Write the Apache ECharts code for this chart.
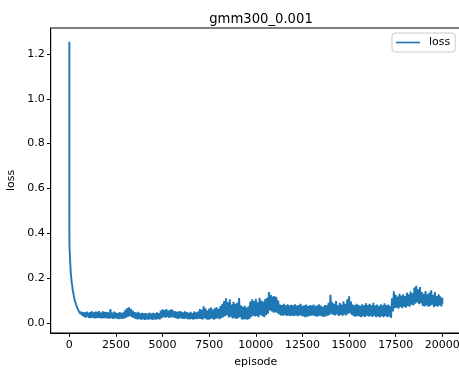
<!DOCTYPE html>
<html>
<head>
<meta charset="utf-8">
<script src="https://cdn.jsdelivr.net/npm/echarts@6/dist/echarts.min.js"></script>
<style>html,body{margin:0;padding:0;background:#fff}#c{width:459px;height:369px}</style>
</head>
<body>
<div id="c"></div>
<script>
// Title / names
const chartTitle = 'gmm300_0.001';
const seriesName = 'loss';
const xName = 'episode';
const yName = 'loss';

// Tick labels
const xTicks = [0, 2500, 5000, 7500, 10000, 12500, 15000, 17500, 20000];
const yTicks = [0.0, 0.2, 0.4, 0.6, 0.8, 1.0, 1.2];

// Early decay (episode, loss)
const earlyEpisodes = [0, 2, 10, 30, 45, 60, 80, 100, 125, 150, 175, 200, 230, 260, 290, 320, 360, 400, 440, 480, 520, 560, 600, 650, 700, 750, 800, 850, 900, 950];
const earlyLoss = [1.255, 0.386, 0.34, 0.30, 0.27, 0.25, 0.22, 0.205, 0.18, 0.17, 0.15, 0.145, 0.125, 0.118, 0.10, 0.098, 0.082, 0.08, 0.064, 0.066, 0.050, 0.056, 0.040, 0.050, 0.032, 0.048, 0.026, 0.047, 0.024, 0.050];

// Noise band from episode 1000 to 20000, one upper and one lower reading per 100 episodes
const bandStart = 1000;
const bandStep = 100;
const bandHigh = [
  0.050,0.048,0.052,0.047,0.050,0.049,0.053,0.046,0.051,0.049,
  0.048,0.047,0.062,0.046,0.050,0.046,0.044,0.048,0.045,0.047,
  0.058,0.066,0.070,0.063,0.055,0.048,0.046,0.049,0.043,0.045,
  0.042,0.044,0.041,0.046,0.043,0.045,0.042,0.047,0.044,0.055,
  0.060,0.057,0.062,0.055,0.058,0.061,0.054,0.052,0.049,0.053,
  0.050,0.047,0.052,0.048,0.045,0.049,0.044,0.051,0.047,0.050,
  0.062,0.058,0.074,0.065,0.055,0.064,0.068,0.060,0.066,0.070,
  0.063,0.075,0.085,0.098,0.110,0.092,0.105,0.082,0.094,0.085,
  0.090,0.111,0.078,0.072,0.076,0.068,0.074,0.095,0.105,0.098,
  0.108,0.092,0.112,0.100,0.095,0.106,0.112,0.138,0.125,0.118,
  0.120,0.115,0.100,0.082,0.080,0.085,0.078,0.083,0.079,0.081,
  0.078,0.083,0.077,0.080,0.085,0.076,0.079,0.082,0.075,0.080,
  0.077,0.082,0.075,0.079,0.083,0.076,0.072,0.080,0.078,0.090,
  0.126,0.092,0.085,0.098,0.078,0.090,0.082,0.096,0.085,0.105,
  0.119,0.095,0.082,0.078,0.085,0.080,0.076,0.083,0.079,0.088,
  0.080,0.085,0.078,0.090,0.077,0.082,0.075,0.083,0.079,0.088,
  0.078,0.082,0.075,0.110,0.141,0.125,0.118,0.130,0.122,0.128,
  0.120,0.135,0.128,0.140,0.132,0.158,0.166,0.150,0.160,0.138,
  0.130,0.142,0.128,0.135,0.145,0.125,0.138,0.120,0.128,0.118,
  0.112
];
const bandLow = [
  0.023,0.021,0.024,0.020,0.022,0.023,0.021,0.020,0.022,0.021,
  0.020,0.019,0.021,0.018,0.020,0.019,0.017,0.019,0.018,0.020,
  0.024,0.028,0.030,0.026,0.022,0.018,0.016,0.017,0.015,0.016,
  0.014,0.016,0.015,0.017,0.014,0.016,0.015,0.017,0.016,0.021,
  0.026,0.024,0.027,0.023,0.025,0.026,0.022,0.020,0.018,0.021,
  0.019,0.018,0.020,0.017,0.016,0.018,0.015,0.018,0.017,0.019,
  0.018,0.015,0.021,0.016,0.014,0.017,0.020,0.015,0.018,0.021,
  0.017,0.021,0.026,0.030,0.034,0.024,0.028,0.020,0.022,0.018,
  0.021,0.026,0.016,0.015,0.017,0.014,0.018,0.026,0.032,0.029,
  0.031,0.026,0.036,0.030,0.026,0.034,0.041,0.056,0.051,0.046,
  0.048,0.044,0.038,0.034,0.032,0.036,0.031,0.033,0.030,0.032,
  0.031,0.034,0.030,0.033,0.032,0.029,0.026,0.028,0.030,0.032,
  0.033,0.031,0.028,0.030,0.032,0.029,0.027,0.030,0.032,0.036,
  0.041,0.036,0.033,0.038,0.031,0.036,0.032,0.037,0.033,0.041,
  0.044,0.036,0.030,0.028,0.031,0.029,0.026,0.030,0.027,0.032,
  0.028,0.031,0.027,0.032,0.026,0.029,0.025,0.030,0.026,0.031,
  0.026,0.029,0.022,0.051,0.066,0.068,0.064,0.071,0.066,0.072,
  0.068,0.076,0.072,0.081,0.078,0.086,0.091,0.084,0.088,0.076,
  0.074,0.078,0.072,0.076,0.081,0.070,0.076,0.073,0.078,0.074,
  0.086
];

const lossData = [];
for (let i = 0; i < earlyEpisodes.length; i++) lossData.push([earlyEpisodes[i], earlyLoss[i]]);
for (let i = 0; i < bandHigh.length; i++) {
  const ep = bandStart + i * bandStep;
  lossData.push([ep, bandHigh[i]]);
  if (i < bandHigh.length - 1) lossData.push([ep + bandStep / 2, bandLow[i]]);
  else lossData.push([ep, bandLow[i]]);
}

const font = 'DejaVu Sans';
const chart = echarts.init(document.getElementById('c'), null, {renderer: 'canvas'});
chart.setOption({
  animation: false,
  backgroundColor: '#fff',
  title: {
    text: chartTitle, left: 256, top: 8, textAlign: 'center',
    textStyle: {fontFamily: font, fontSize: 13.2, fontWeight: 'normal', color: '#000'}
  },
  legend: {
    left: 392, top: 33,
    data: [{name: seriesName, icon: 'rect'}],
    itemWidth: 24, itemHeight: 1.6,
    padding: [4, 5, 4, 4],
    borderColor: '#cccccc', borderWidth: 1, borderRadius: 3,
    backgroundColor: 'rgba(255,255,255,0.8)',
    textStyle: {fontFamily: font, fontSize: 11, color: '#000', padding: [0, 0, 0, 4]}
  },
  grid: {
    left: 50.7, top: 28, right: -2, bottom: 36,
    outerBoundsMode: 'none', containLabel: false,
    show: true, borderColor: '#000', borderWidth: 1, backgroundColor: 'transparent'
  },
  xAxis: {
    type: 'value', min: -1000, max: 21000,
    name: xName, nameLocation: 'middle', nameGap: 24,
    nameTextStyle: {fontFamily: font, fontSize: 11, color: '#000'},
    axisLine: {show: true, onZero: false, lineStyle: {color: '#000', width: 1}},
    axisTick: {show: true, length: 3.8, lineStyle: {color: '#000'}, customValues: xTicks},
    axisLabel: {fontFamily: font, fontSize: 11, color: '#000', margin: 7, customValues: xTicks,
      formatter: v => String(v)},
    splitLine: {show: false}
  },
  yAxis: {
    type: 'value', min: -0.045, max: 1.316,
    name: yName, nameLocation: 'middle', nameGap: 31, nameRotate: 90,
    nameTextStyle: {fontFamily: font, fontSize: 11, color: '#000'},
    axisLine: {show: true, onZero: false, lineStyle: {color: '#000', width: 1}},
    axisTick: {show: true, length: 3.8, lineStyle: {color: '#000'}, customValues: yTicks},
    axisLabel: {fontFamily: font, fontSize: 11, color: '#000', margin: 6, customValues: yTicks,
      formatter: v => v.toFixed(1)},
    splitLine: {show: false}
  },
  series: [{
    name: seriesName, type: 'line', data: lossData,
    showSymbol: false, symbol: 'none', sampling: null,
    lineStyle: {color: '#1f77b4', width: 1.9},
    itemStyle: {color: '#1f77b4'},
    clip: true
  }]
});
</script>
</body>
</html>
